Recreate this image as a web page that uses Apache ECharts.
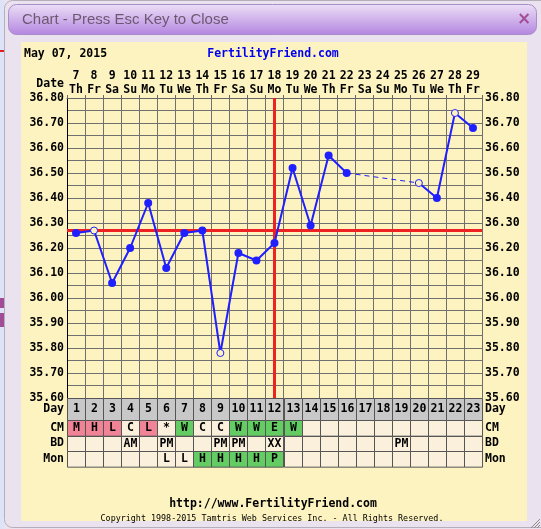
<!DOCTYPE html>
<html>
<head>
<meta charset="utf-8">
<script src="https://cdn.jsdelivr.net/npm/echarts@6/dist/echarts.min.js"></script>
<style>
html,body{margin:0;padding:0;background:#ebe2ef;}
#c{width:541px;height:529px;}
</style>
</head>
<body>
<div id="c"></div>
<script>
// ---- data ----
const dates = ['7','8','9','10','11','12','13','14','15','16','17','18','19','20','21','22','23','24','25','26','27','28','29'];
const weekdays = ['Th','Fr','Sa','Su','Mo','Tu','We','Th','Fr','Sa','Su','Mo','Tu','We','Th','Fr','Sa','Su','Mo','Tu','We','Th','Fr'];
const temps = [36.26,36.27,36.06,36.20,36.38,36.12,36.26,36.27,35.78,36.18,36.15,36.22,36.52,36.29,36.57,36.50,null,null,null,36.46,36.40,36.74,36.68];
const openPointIdx = [1,8,19,21];
const coverline = 36.275;
const ovulationDate = '18';
const cycleDays = ['1','2','3','4','5','6','7','8','9','10','11','12','13','14','15','16','17','18','19','20','21','22','23'];
const rowNames = ['CM','BD','Mon'];
const cmMarks  = ['M','H','L','C','L','*','W','C','C','W','W','E','W','','','','','','','','','',''];
const bdMarks  = ['','','','AM','','PM','','','PM','PM','','XX','','','','','','','PM','','','',''];
const monMarks = ['','','','','','L','L','H','H','H','H','P','','','','','','','','','','',''];
const chartDate = 'May 07, 2015';

// ---- styles ----
const BLUE = '#1f1fff';
const PANEL = '#fdf3c1';
const FONT = 'DejaVu Sans Mono';
const rows = [cmMarks, bdMarks, monMarks];
function cellColor(r, m) {
  if (r === 0 && (m === 'M' || m === 'H' || m === 'L')) return '#f08496';
  if (r === 0 && (m === 'W' || m === 'E')) return '#63cc63';
  if (r === 2 && (m === 'H' || m === 'P')) return '#63cc63';
  return '#fbf0dc';
}

const mainData = temps.map((t, i) => {
  if (t === null) return null;
  if (openPointIdx.indexOf(i) >= 0) {
    return {value: t, symbol: 'circle', symbolSize: 7,
      itemStyle: {color: PANEL, borderColor: BLUE, borderWidth: 1}};
  }
  return t;
});
// bridge gaps with dashed line
const bridge = temps.map(() => null);
for (let i = 1; i < temps.length; i++) {
  if (temps[i] === null && temps[i-1] !== null) {
    let j = i; while (j < temps.length && temps[j] === null) j++;
    if (j < temps.length) { bridge[i-1] = temps[i-1]; bridge[j] = temps[j]; }
  }
}

const headerData = cycleDays.map((d, i) => [i, 0]);
const rowData = [];
rows.forEach((arr, r) => arr.forEach((m, i) => rowData.push([i, r])));

function cellRender(getText, getFill) {
  return function (params, api) {
    const c = api.coord([api.value(0), api.value(1)]);
    const s = api.size([1, 1]);
    const idx = params.dataIndex;
    return {
      type: 'rect',
      shape: {x: Math.round(c[0] - s[0] / 2) + 0.5, y: Math.round(c[1] - s[1] / 2) + 0.5, width: s[0], height: s[1]},
      style: {fill: getFill(idx), stroke: '#555', lineWidth: 1},
      textContent: {style: {text: getText(idx), font: 'bold 11.5px ' + FONT, fill: '#000'}},
      textConfig: {position: 'inside'}
    };
  };
}

const labelFont = {fontFamily: FONT, fontWeight: 'bold', fontSize: 11.5, color: '#000'};

const chart = echarts.init(document.getElementById('c'), null, {renderer: 'canvas'});
chart.setOption({
  animation: false,
  backgroundColor: '#ebe2ef',
  graphic: [
    {type: 'rect', z: -20, shape: {x: 0, y: 0, width: 4, height: 529}, style: {fill: '#dfe3f7'}},
    {type: 'rect', z: -20, shape: {x: 0, y: 50, width: 4, height: 2}, style: {fill: '#e02020'}},
    {type: 'rect', z: -20, shape: {x: 0, y: 298, width: 4, height: 10}, style: {fill: '#a04c96'}},
    {type: 'rect', z: -20, shape: {x: 0, y: 313, width: 4, height: 14}, style: {fill: '#a04c96'}},
    {type: 'rect', z: -19, shape: {x: 4.5, y: 0.5, width: 545, height: 527, r: 8}, style: {fill: '#ebe2ef', stroke: '#b5aebb', lineWidth: 1}},
    {type: 'rect', z: -18, shape: {x: 8.5, y: 4.5, width: 528, height: 30, r: 8},
      style: {fill: new echarts.graphic.LinearGradient(0, 0, 0, 1, [{offset: 0, color: '#ecdff6'}, {offset: 1, color: '#b485e0'}]), stroke: '#a98fc8', lineWidth: 1}},
    {type: 'text', z: -17, x: 22, y: 20, style: {text: 'Chart - Press Esc Key to Close', font: '15px "Liberation Sans", Arial', fill: '#6d5872', textVerticalAlign: 'middle', verticalAlign: 'middle'}},
    {type: 'text', z: -17, x: 524, y: 20, style: {text: '×', font: 'bold 17px "DejaVu Sans"', fill: '#a24d96', textAlign: 'center', align: 'center', textVerticalAlign: 'middle', verticalAlign: 'middle'}},
    {type: 'rect', z: -18, shape: {x: 21, y: 42, width: 506, height: 479}, style: {fill: PANEL}},
    {type: 'text', z: -17, x: 24, y: 54, style: {text: chartDate, font: 'bold 11.5px ' + FONT, fill: '#000', textVerticalAlign: 'middle', verticalAlign: 'middle'}},
    {type: 'text', z: -17, x: 273, y: 54, style: {text: 'FertilityFriend.com', font: 'bold 11.5px ' + FONT, fill: '#0000ee', textAlign: 'center', align: 'center', textVerticalAlign: 'middle', verticalAlign: 'middle'}},
    {type: 'text', z: -17, x: 64, y: 84, style: {text: 'Date', font: 'bold 11.5px ' + FONT, fill: '#000', textAlign: 'right', align: 'right', textVerticalAlign: 'middle', verticalAlign: 'middle'}},
    {type: 'text', z: -17, x: 273, y: 504, style: {text: 'http://www.FertilityFriend.com', font: 'bold 11.5px ' + FONT, fill: '#000', textAlign: 'center', align: 'center', textVerticalAlign: 'middle', verticalAlign: 'middle'}},
    {type: 'text', z: -17, x: 272, y: 519, style: {text: 'Copyright 1998-2015 Tamtris Web Services Inc. - All Rights Reserved.', font: '8.4px ' + FONT, fill: '#000', textAlign: 'center', align: 'center', textVerticalAlign: 'middle', verticalAlign: 'middle'}},
    {type: 'polyline', z: -17, shape: {points: [[531, 528], [540, 519]]}, style: {stroke: '#888', lineWidth: 1}},
    {type: 'polyline', z: -17, shape: {points: [[534, 528], [540, 522]]}, style: {stroke: '#888', lineWidth: 1}},
    {type: 'polyline', z: -17, shape: {points: [[537, 528], [540, 525]]}, style: {stroke: '#888', lineWidth: 1}}
  ],
  grid: [
    {left: 67, top: 98, width: 415, height: 300},
    {left: 67, top: 398, width: 415, height: 22},
    {left: 67, top: 420, width: 415, height: 47}
  ],
  xAxis: [
    {gridIndex: 0, type: 'category', data: dates, position: 'top', boundaryGap: true,
      axisLine: {show: true, lineStyle: {color: '#666', width: 1}},
      axisTick: {show: true, interval: 0, length: 3, lineStyle: {color: '#666'}},
      axisLabel: Object.assign({interval: 0, margin: 1, lineHeight: 14,
        formatter: (v, i) => v + '\n' + weekdays[i]}, labelFont),
      splitLine: {show: true, interval: 0, lineStyle: {color: '#707070', width: 1}}},
    {gridIndex: 1, type: 'category', data: cycleDays, show: false},
    {gridIndex: 2, type: 'category', data: cycleDays, show: false}
  ],
  yAxis: [
    {gridIndex: 0, type: 'value', min: 35.6, max: 36.8, interval: 0.05, position: 'left',
      axisLine: {show: true, lineStyle: {color: '#000', width: 1}},
      axisTick: {show: false},
      axisLabel: Object.assign({margin: 3, formatter: v => (Math.round(v * 100) % 10 === 0 ? v.toFixed(2) : '')}, labelFont),
      splitLine: {show: true, lineStyle: {color: '#707070', width: 1}}},
    {gridIndex: 0, type: 'value', min: 35.6, max: 36.8, interval: 0.05, position: 'right',
      axisLine: {show: true, lineStyle: {color: '#707070', width: 1}},
      axisTick: {show: false},
      axisLabel: Object.assign({margin: 3, formatter: v => (Math.round(v * 100) % 10 === 0 ? v.toFixed(2) : '')}, labelFont),
      splitLine: {show: false}},
    {gridIndex: 1, type: 'category', data: ['Day'], position: 'left', axisLine: {show: false}, axisTick: {show: false}, axisLabel: Object.assign({margin: 3}, labelFont)},
    {gridIndex: 1, type: 'category', data: ['Day'], position: 'right', axisLine: {show: false}, axisTick: {show: false}, axisLabel: Object.assign({margin: 3}, labelFont)},
    {gridIndex: 2, type: 'category', data: rowNames, inverse: true, position: 'left', axisLine: {show: false}, axisTick: {show: false}, axisLabel: Object.assign({margin: 3}, labelFont)},
    {gridIndex: 2, type: 'category', data: rowNames, inverse: true, position: 'right', axisLine: {show: false}, axisTick: {show: false}, axisLabel: Object.assign({margin: 3}, labelFont)}
  ],
  series: [
    {type: 'line', xAxisIndex: 0, yAxisIndex: 0, data: bridge, connectNulls: true, symbol: 'none', z: 2,
      lineStyle: {color: BLUE, width: 1, type: [5, 4]},
      markLine: {silent: true, symbol: 'none', label: {show: false}, z: 2,
        lineStyle: {color: '#ee2222', width: 3, type: 'solid'},
        data: [{yAxis: coverline}, {xAxis: ovulationDate}]}},
    {type: 'line', xAxisIndex: 0, yAxisIndex: 0, data: mainData, connectNulls: false, z: 5,
      symbol: 'circle', symbolSize: 8, itemStyle: {color: BLUE}, lineStyle: {color: BLUE, width: 2}},
    {type: 'custom', xAxisIndex: 1, yAxisIndex: 2, data: headerData, encode: {x: 0, y: 1},
      renderItem: cellRender(i => cycleDays[i], () => '#c8c8c8')},
    {type: 'custom', xAxisIndex: 2, yAxisIndex: 4, data: rowData, encode: {x: 0, y: 1},
      renderItem: cellRender(i => rows[Math.floor(i / cycleDays.length)][i % cycleDays.length],
        i => { const r = Math.floor(i / cycleDays.length); return cellColor(r, rows[r][i % cycleDays.length]); })}
  ]
});
</script>
</body>
</html>
